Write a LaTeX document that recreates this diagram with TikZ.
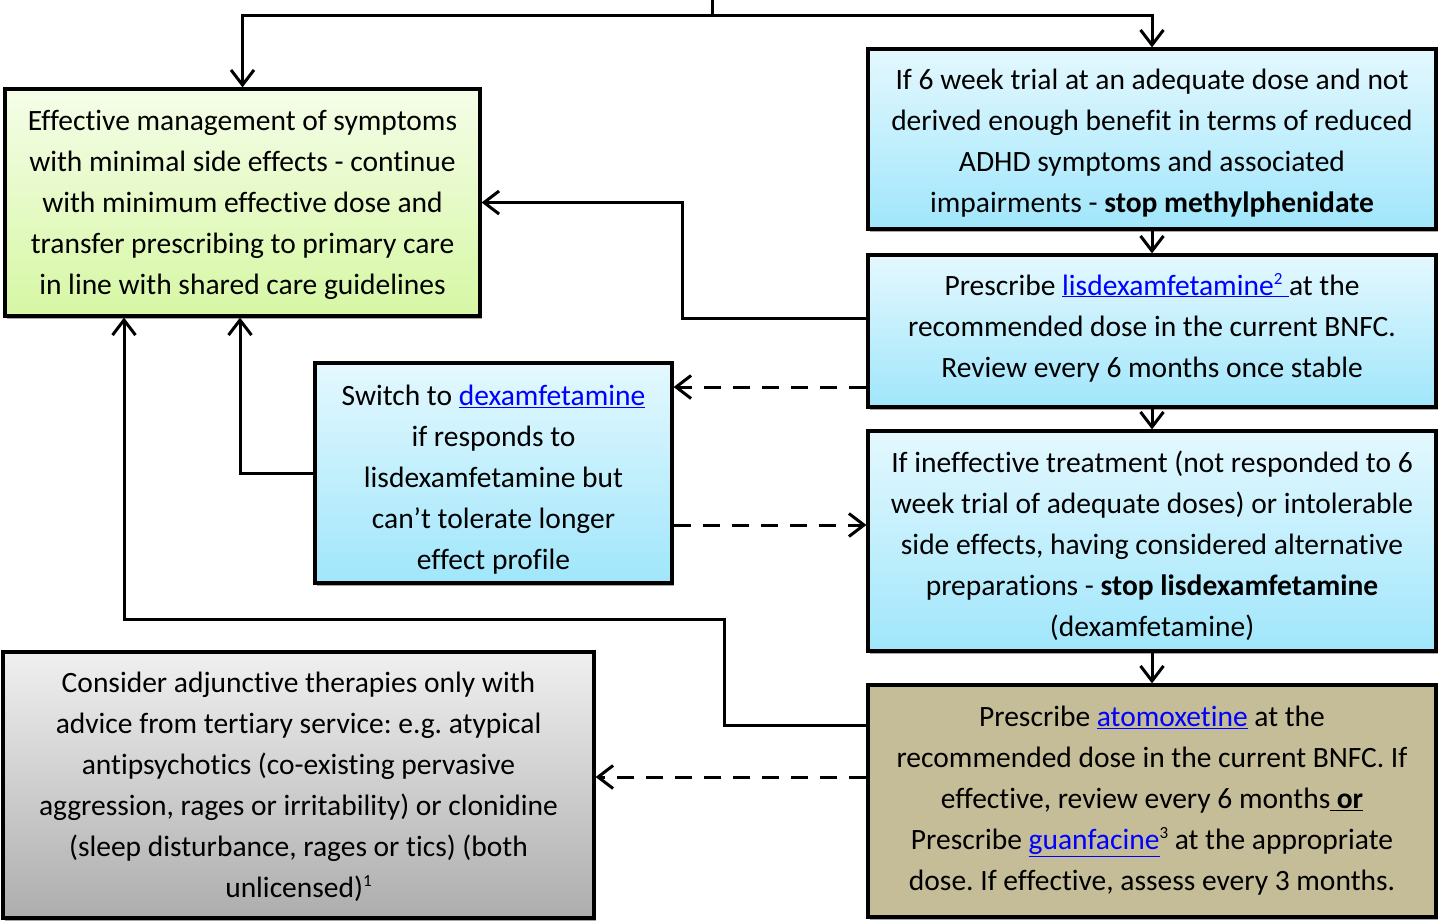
\documentclass[tikz,border=0pt]{standalone}
\usepackage{fontspec}
\setmainfont[Ligatures=NoCommon]{Carlito}
\usetikzlibrary{arrows.meta,shadows}
\definecolor{gtop}{HTML}{F5FDE8}
\definecolor{gbot}{HTML}{D6F7A4}
\definecolor{btop}{HTML}{E4F8FE}
\definecolor{bbot}{HTML}{A0E6FB}
\definecolor{ytop}{HTML}{F0F0F0}
\definecolor{ybot}{HTML}{ADADAD}
\definecolor{tan}{HTML}{C4BD97}
\definecolor{linkblue}{HTML}{0000FF}
\newcommand{\lnk}[1]{\textcolor{linkblue}{\underline{#1}}}
\newcommand{\topsh}[1]{\rule{0pt}{#1pt}}
\newcommand{\botsh}[1]{\rule[-#1pt]{0pt}{0pt}}
\newcommand{\supr}[1]{\raisebox{11pt}{\fontsize{17}{17}\selectfont #1}}
\tikzset{
  box/.style={draw=black, line width=3.2pt, inner sep=0pt, align=center,
    font=\fontsize{29.5}{41}\selectfont\frenchspacing,
    drop shadow={shadow xshift=2pt, shadow yshift=-3pt, opacity=0.35, fill=black}},
  greenbox/.style={box, top color=gtop, bottom color=gbot},
  bluebox/.style={box, top color=btop, bottom color=bbot},
  greybox/.style={box, top color=ytop, bottom color=ybot},
  tanbox/.style={box, fill=tan},
  arr/.style={line width=3pt, -{Straight Barb[length=15pt,width=23pt]}},
  dasharr/.style={arr, dash pattern=on 17pt off 12pt},
}
\begin{document}
\begin{tikzpicture}[x=1pt,y=-1pt]
\useasboundingbox (0,0) rectangle (1439,922);

\node[greenbox, minimum width=475pt, minimum height=227pt] (green) at (242.5,202.5)
 {\topsh{25}Effective management of symptoms\\with minimal side effects - continue\\with minimum effective dose and\\transfer prescribing to primary care\\in line with shared care guidelines};

\node[bluebox, minimum width=568pt, minimum height=180pt] (b1) at (1152,139)
 {\topsh{29}If 6 week trial at an adequate dose and not\\derived enough benefit in terms of reduced\\ADHD symptoms and associated\\impairments - \textbf{stop methylphenidate}};

\node[bluebox, minimum width=568pt, minimum height=152pt] (b2) at (1152,331)
 {Prescribe \lnk{lisdexamfetamine\supr{2} }at the\\recommended dose in the current BNFC.\\Review every 6 months once stable\botsh{12}};

\node[bluebox, minimum width=357pt, minimum height=220pt] (sw) at (493.5,473)
 {\topsh{33}Switch to \lnk{dexamfetamine}\\if responds to\\lisdexamfetamine but\\can’t tolerate longer\\effect profile};

\node[bluebox, minimum width=568pt, minimum height=220pt] (b3) at (1152,541)
 {\topsh{31}If ineffective treatment (not responded to 6\\week trial of adequate doses) or intolerable\\side effects, having considered alternative\\preparations - \textbf{stop lisdexamfetamine}\\(dexamfetamine)};

\node[tanbox, minimum width=568pt, minimum height=232pt] (b4) at (1152,801)
 {Prescribe \lnk{atomoxetine} at the\\recommended dose in the current BNFC. If\\effective, review every 6 months\underline{ \textbf{or}}\\Prescribe \lnk{guanfacine}\supr{3} at the appropriate\\dose. If effective, assess every 3 months.};

\node[greybox, minimum width=591pt, minimum height=266pt] (grey) at (298.5,785)
 {\topsh{25}Consider adjunctive therapies only with\\advice from tertiary service: e.g. atypical\\antipsychotics (co-existing pervasive\\aggression, rages or irritability) or clonidine\\(sleep disturbance, rages or tics) (both\\unlicensed)\supr{1}};

% top split
\coordinate (top) at (712,0);
\coordinate (split) at (712,15);
\draw[line width=3pt] (top) -- (split);
\draw[arr] (split) -| (green.north);
\draw[arr] (split) -| (b1.north);

% vertical chain
\draw[arr] (b1.south) -- (b2.north);
\draw[arr] (b2.south) -- (b3.north);
\draw[arr] (b3.south) -- (b4.north);

% b2 -> green
\coordinate (b2out) at ([yshift=13pt]b2.west);
\coordinate (b2bend) at (682,318);
\draw[arr] (b2out) -- (b2bend) |- (green.east);

% b2 -> switch dashed
\coordinate (b2d) at ([yshift=-56pt]b2.west);
\draw[dasharr] (b2d) -- (b2d -| sw.east);

% switch -> green
\coordinate (gs2) at ([xshift=-2.5pt]green.south);
\draw[arr] (sw.west) -| (gs2);

% switch -> b3 dashed
\coordinate (swd) at ([yshift=-52pt]sw.east);
\draw[dasharr] (swd) -- (swd -| b3.west);

% b4 -> green
\coordinate (b4out) at ([yshift=76pt]b4.west);
\coordinate (b4bend) at (724,619);
\coordinate (gs1) at ([xshift=-118.5pt]green.south);
\draw[arr] (b4out) -| (b4bend) -| (gs1);

% b4 -> grey dashed
\coordinate (b4d) at ([yshift=24pt]b4.west);
\draw[dasharr] (b4d) -- (b4d -| grey.east);
\end{tikzpicture}
\end{document}
